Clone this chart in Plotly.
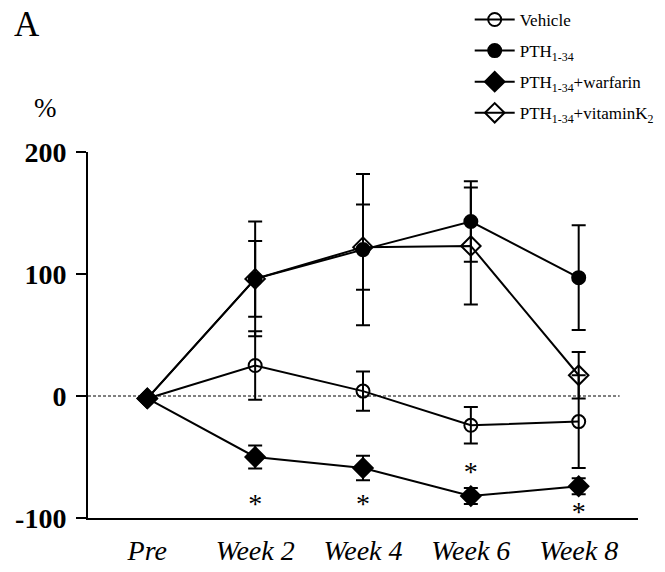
import plotly.graph_objects as go

categories = ["Pre", "Week 2", "Week 4", "Week 6", "Week 8"]
x_pos = [0, 1, 2, 3, 4]

vehicle = [-2, 25, 4, -24, -21]
vehicle_err = [0, 28, 16, 15, 38]
pth = [-2, 96, 120, 143, 97]
pth_err = [0, 47, 62, 33, 43]
warfarin = [-2, -50, -59, -82, -74]
warfarin_err = [0, 9.5, 10, 6.5, 6.5]
vitk = [-2, 96, 122, 123, 17]
vitk_err = [0, 31, 35, 48, 19]

star_x = [1, 2, 3, 4]
star_y = [-90, -90, -64, -97]

y_ticks = [-100, 0, 100, 200]
y_ticktext = ["-100", "0", "100", "200"]

FONT = "Liberation Serif"

fig = go.Figure()

def add(name, y, err, symbol, group):
    fig.add_trace(go.Scatter(
        x=x_pos, y=y, name=name, mode="lines+markers",
        line=dict(color="black", width=2),
        marker=dict(symbol=symbol, size=13 if "circle" in symbol else 15,
                    color="black", line=dict(color="black", width=2)),
        error_y=dict(type="data", array=err, visible=True, color="black",
                     thickness=2, width=7),
        legendgroup=group,
    ))

add("Vehicle", vehicle, vehicle_err, "circle-open", "g1")
add("PTH<sub>1-34</sub>", pth, pth_err, "circle", "g2")
add("PTH<sub>1-34</sub>+warfarin", warfarin, warfarin_err, "diamond", "g3")
add("PTH<sub>1-34</sub>+vitaminK<sub>2</sub>", vitk, vitk_err, "diamond-open", "g4")

fig.add_trace(go.Scatter(
    x=star_x, y=star_y, mode="text", text=["*"] * len(star_x),
    textfont=dict(family=FONT, size=28, color="black"),
    showlegend=False, hoverinfo="skip",
))

fig.add_shape(type="line", x0=-0.55, x1=4.38, y0=0, y1=0, xref="x", yref="y",
              line=dict(color="black", width=1, dash="3px,2px"), layer="below")

fig.add_annotation(text="A", x=-0.138, y=1.347, xref="paper", yref="paper",
                   xanchor="left", yanchor="middle", showarrow=False,
                   font=dict(family=FONT, size=35, color="black"))
fig.add_annotation(text="%", x=-0.078, y=1.12, xref="paper", yref="paper",
                   xanchor="center", yanchor="middle", showarrow=False,
                   font=dict(family=FONT, size=27, color="black"))

fig.update_layout(
    width=657, height=564,
    margin=dict(l=80, r=27, t=144, b=54, autoexpand=False),
    plot_bgcolor="white", paper_bgcolor="white",
    font=dict(family=FONT, color="black"),
    legend=dict(x=0.694, y=1.41, xanchor="left", yanchor="top",
                font=dict(family=FONT, size=17, color="black"),
                bgcolor="rgba(0,0,0,0)", tracegroupgap=6, itemwidth=40),
    xaxis=dict(range=[-0.55, 4.55], tickvals=x_pos, ticktext=categories,
               showline=True, linecolor="black", linewidth=2, ticks="",
               showgrid=False, zeroline=False,
               tickfont=dict(family=FONT, size=28, style="italic", color="black"),
               ticklabelstandoff=6),
    yaxis=dict(range=[-100, 200], tickvals=y_ticks, ticktext=y_ticktext,
               showline=True, linecolor="black", linewidth=2,
               ticks="outside", ticklen=10, tickwidth=2, tickcolor="black",
               showgrid=False, zeroline=False, ticklabelstandoff=4,
               tickfont=dict(family=FONT, size=28, weight="bold", color="black")),
)

fig.write_html("out.html")
